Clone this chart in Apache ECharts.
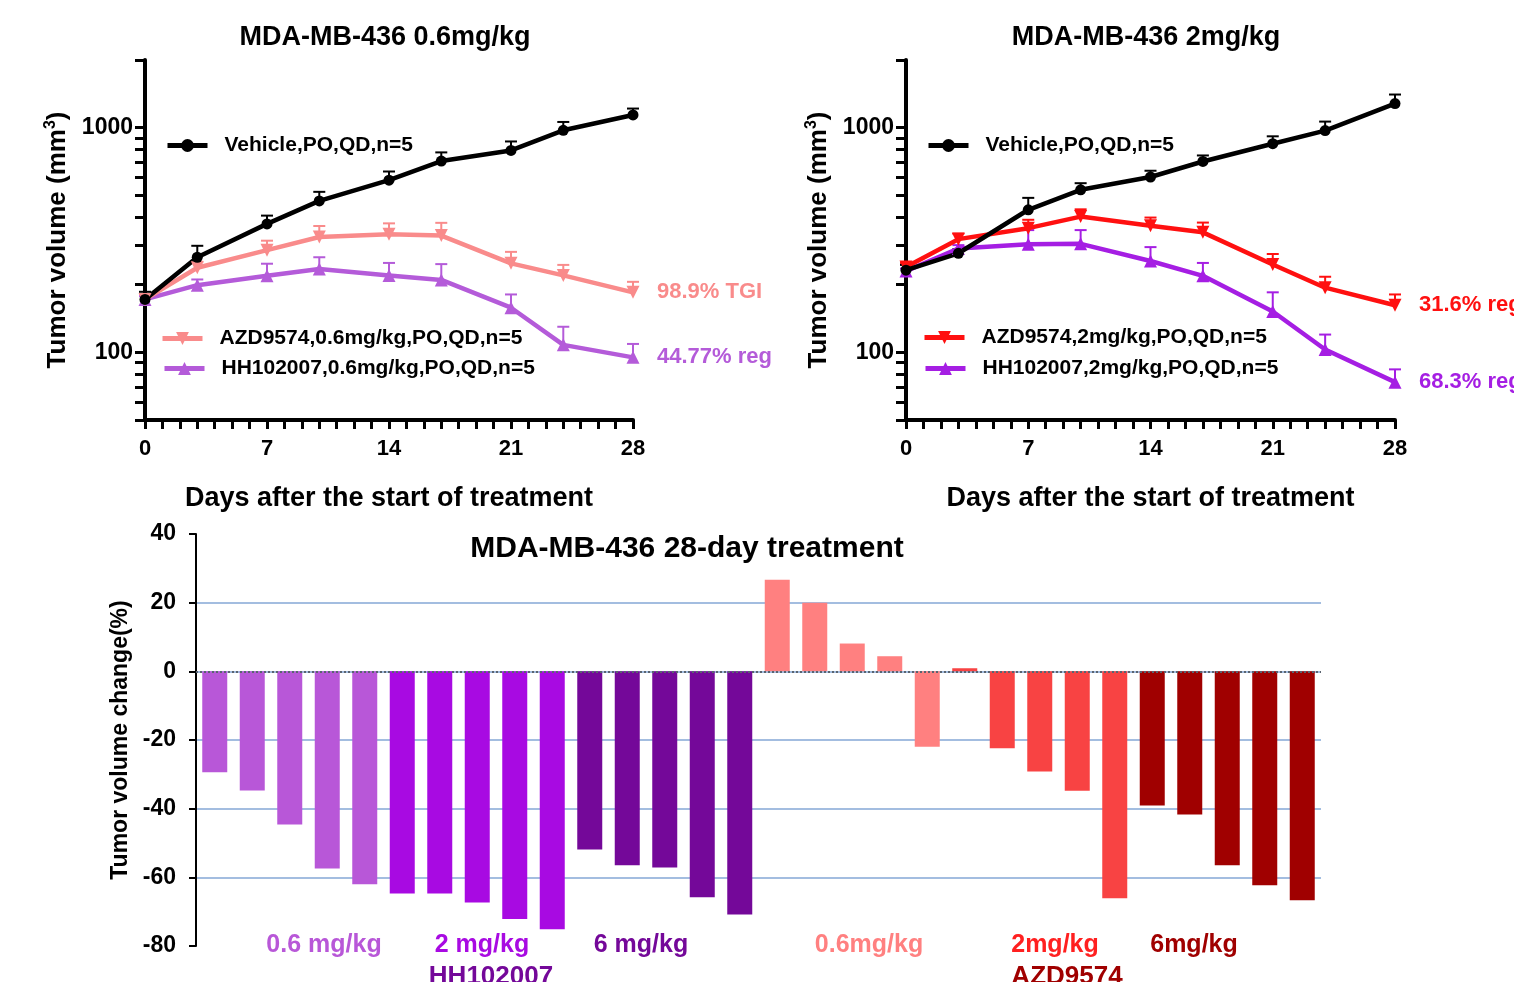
<!DOCTYPE html>
<html>
<head>
<meta charset="utf-8">
<title>MDA-MB-436</title>
<script src="https://cdn.jsdelivr.net/npm/echarts@6/dist/echarts.min.js"></script>
<style>
  html, body { margin: 0; padding: 0; background: #fff; }
  #chart { width: 1514px; height: 982px; }
</style>
</head>
<body>
<div id="chart"></div>
<script>
// measurement days
const days = [0, 3, 7, 10, 14, 17, 21, 24, 28];

// 0.6 mg/kg study: mean and top of the error bar
const veh06 = [172, 265, 373, 472, 584, 710, 792, 973, 1139];
const veh06Err = [186, 298, 406, 518, 638, 776, 868, 1060, 1216];
const azd06 = [172, 238, 285, 326, 335, 331, 249, 220, 185];
const azd06Err = [182, 253, 314, 365, 375, 377, 280, 245, 206];
const hh06 = [172, 199, 219, 235, 220, 210, 158, 108, 95];
const hh06Err = [178, 211, 248, 265, 250, 247, 181, 130, 109];

// 2 mg/kg study
const veh2 = [232, 276, 431, 529, 603, 707, 848, 970, 1280];
const veh2Err = [245, 288, 487, 566, 643, 752, 915, 1064, 1404];
const azd2 = [240, 319, 357, 402, 366, 342, 246, 194, 162];
const azd2Err = [250, 338, 389, 433, 398, 378, 274, 217, 181];
const hh2 = [230, 290, 303, 304, 255, 219, 152, 103, 73.7];
const hh2Err = [236, 300, 350, 350, 294, 250, 185, 120, 84];

// log axis ticks / labels
const logTicks = [50, 60, 70, 80, 90, 100, 200, 300, 400, 500, 600, 700, 800, 900, 1000, 2000];
const logLabels = [100, 1000];

// 28-day tumor volume change (%) per animal
const hh06Change = [-29.4, -34.7, -44.6, -57.4, -62.0];
const hh2Change = [-64.7, -64.7, -67.3, -72.1, -75.1];
const hh6Change = [-51.9, -56.5, -57.1, -65.8, -70.8];
const azd06Change = [26.7, 20.0, 8.1, 4.4, -22.0];
const azd2Change = [0.9, -22.4, -29.2, -34.8, -66.1];
const azd6Change = [-39.1, -41.7, -56.5, -62.3, -66.7];
const groupNames = ['0.6 mg/kg', '2 mg/kg', '6 mg/kg', '0.6mg/kg', '2mg/kg', '6mg/kg'];
const drugNames = ['HH102007', 'AZD9574'];

const FONT = '"Liberation Sans", Arial, Helvetica, sans-serif';
const groupColors = ['#b857d8', '#a80ae2', '#740899', '#ff8080', '#f84343', '#a00000'];
const groupLabelX = [324, 482, 641, 869, 1055, 1194];

const chart = echarts.init(document.getElementById('chart'));

const groups = [hh06Change, hh2Change, hh6Change, azd06Change, azd2Change, azd6Change];
const categories = [];
const barData = [];
groups.forEach((g, gi) => {
  g.forEach((v, i) => {
    categories.push((gi < 3 ? drugNames[0] : drugNames[1]) + ' ' + groupNames[gi] + ' #' + (i + 1));
    barData.push({ value: v, itemStyle: { color: groupColors[gi] } });
  });
});

const pairs = vals => days.map((d, i) => [d, vals[i]]);

function lineSeries(name, idx, vals, color, symbol, rotate, endText) {
  return {
    type: 'line',
    name: name,
    xAxisIndex: idx,
    yAxisIndex: idx,
    data: pairs(vals),
    symbol: symbol,
    symbolSize: symbol === 'circle' ? 11 : 13,
    symbolRotate: rotate,
    lineStyle: { color: color, width: 4.5 },
    itemStyle: { color: color },
    z: 3,
    endLabel: endText ? {
      show: true,
      formatter: endText,
      color: color,
      fontSize: 22,
      fontWeight: 'bold',
      fontFamily: FONT,
      distance: 24
    } : undefined
  };
}

function errorSeries(name, idx, vals, errs, color) {
  return {
    type: 'custom',
    name: name,
    xAxisIndex: idx,
    yAxisIndex: idx,
    silent: true,
    z: 2,
    data: days.map((d, i) => [d, vals[i], errs[i]]),
    encode: { x: 0, y: [1, 2] },
    renderItem: (params, api) => {
      const base = api.coord([api.value(0), api.value(1)]);
      const top = api.coord([api.value(0), api.value(2)]);
      return {
        type: 'group',
        children: [
          { type: 'line', shape: { x1: base[0], y1: base[1], x2: top[0], y2: top[1] }, style: { stroke: color, lineWidth: 2 } },
          { type: 'line', shape: { x1: top[0] - 6, y1: top[1], x2: top[0] + 6, y2: top[1] }, style: { stroke: color, lineWidth: 2 } }
        ]
      };
    }
  };
}

function dayAxis(idx) {
  return {
    gridIndex: idx,
    type: 'value',
    min: 0,
    max: 28,
    interval: 7,
    axisLine: { show: true, lineStyle: { color: '#000', width: 4 } },
    axisTick: { show: true, length: 9, lineStyle: { color: '#000', width: 3 } },
    minorTick: { show: true, splitNumber: 7, length: 9, lineStyle: { color: '#000', width: 3 } },
    splitLine: { show: false },
    axisLabel: { color: '#000', fontSize: 22, fontWeight: 'bold', fontFamily: FONT, margin: 18 },
    name: 'Days after the start of treatment',
    nameLocation: 'middle',
    nameGap: 65,
    nameTextStyle: { color: '#000', fontSize: 27, fontWeight: 'bold', fontFamily: FONT }
  };
}

function volumeAxis(idx) {
  return {
    gridIndex: idx,
    type: 'log',
    logBase: 10,
    min: 50,
    max: 2000,
    axisLine: { show: true, lineStyle: { color: '#000', width: 4 } },
    axisTick: { show: true, customValues: logTicks, length: 10, lineStyle: { color: '#000', width: 3 } },
    axisLabel: {
      customValues: logLabels,
      formatter: v => String(Math.round(v)),
      color: '#000', fontSize: 23, fontWeight: 'bold', fontFamily: FONT, margin: 12
    },
    splitLine: { show: false },
    name: 'Tumor volume (mm{sup|3})',
    nameLocation: 'middle',
    nameGap: 72,
    nameTextStyle: {
      color: '#000', fontSize: 26, fontWeight: 'bold', fontFamily: FONT,
      rich: { sup: { fontSize: 16, fontWeight: 'bold', fontFamily: FONT, color: '#000', verticalAlign: 'top', padding: [0, 0, 14, 0] } }
    }
  };
}

function legendAt(name, left, top) {
  return {
    data: [name],
    left: left,
    top: top,
    padding: 0,
    itemWidth: 40,
    itemHeight: 16,
    selectedMode: false,
    lineStyle: { width: 5 },
    textStyle: { color: '#000', fontSize: 21, fontWeight: 'bold', fontFamily: FONT, padding: [0, 0, 0, 12] }
  };
}

function text(str, x, y, size, color) {
  return {
    type: 'text', x: x, y: y, silent: true,
    style: { text: str, fill: color, fontSize: size, fontWeight: 'bold', fontFamily: FONT, align: 'center', verticalAlign: 'middle' }
  };
}

const option = {
  animation: false,
  backgroundColor: '#fff',
  textStyle: { fontFamily: FONT },
  grid: [
    { left: 145, top: 60, width: 488, height: 360, outerBoundsMode: 'none' },
    { left: 906, top: 60, width: 489, height: 360, outerBoundsMode: 'none' },
    { left: 196, top: 534, width: 1125, height: 412, outerBoundsMode: 'none' }
  ],
  legend: [
    legendAt('Vehicle,PO,QD,n=5', 165, 135),
    legendAt('AZD9574,0.6mg/kg,PO,QD,n=5', 160, 328),
    legendAt('HH102007,0.6mg/kg,PO,QD,n=5', 162, 358),
    legendAt('Vehicle,PO,QD,n=5', 926, 135),
    legendAt('AZD9574,2mg/kg,PO,QD,n=5', 922, 327),
    legendAt('HH102007,2mg/kg,PO,QD,n=5', 923, 358)
  ],
  xAxis: [
    dayAxis(0),
    dayAxis(1),
    {
      gridIndex: 2,
      type: 'category',
      data: categories,
      boundaryGap: true,
      axisLine: { show: false },
      axisTick: { show: false },
      axisLabel: { show: false },
      splitLine: { show: false }
    }
  ],
  yAxis: [
    volumeAxis(0),
    volumeAxis(1),
    {
      gridIndex: 2,
      type: 'value',
      min: -80,
      max: 40,
      interval: 20,
      axisLine: { show: true, lineStyle: { color: '#000', width: 2 } },
      axisTick: { show: true, length: 7, lineStyle: { color: '#000', width: 2 } },
      axisLabel: { color: '#000', fontSize: 23, fontWeight: 'bold', fontFamily: FONT, margin: 20 },
      splitLine: { show: true, showMinLine: false, showMaxLine: false, lineStyle: { color: '#a3bde0', width: 2 } },
      name: 'Tumor volume change(%)',
      nameLocation: 'middle',
      nameGap: 63,
      nameTextStyle: { color: '#000', fontSize: 23, fontWeight: 'bold', fontFamily: FONT }
    }
  ],
  series: [
    errorSeries('err-hh06', 0, hh06, hh06Err, '#b45bd9'),
    errorSeries('err-azd06', 0, azd06, azd06Err, '#f98b8b'),
    errorSeries('err-veh06', 0, veh06, veh06Err, '#000'),
    lineSeries('HH102007,0.6mg/kg,PO,QD,n=5', 0, hh06, '#b45bd9', 'triangle', 0, '44.77% reg'),
    lineSeries('AZD9574,0.6mg/kg,PO,QD,n=5', 0, azd06, '#f98b8b', 'triangle', 180, '98.9% TGI'),
    lineSeries('Vehicle,PO,QD,n=5', 0, veh06, '#000', 'circle', 0, null),

    errorSeries('err-hh2', 1, hh2, hh2Err, '#a51ee3'),
    errorSeries('err-azd2', 1, azd2, azd2Err, '#ff1010'),
    errorSeries('err-veh2', 1, veh2, veh2Err, '#000'),
    lineSeries('HH102007,2mg/kg,PO,QD,n=5', 1, hh2, '#a51ee3', 'triangle', 0, '68.3% reg'),
    lineSeries('AZD9574,2mg/kg,PO,QD,n=5', 1, azd2, '#ff1010', 'triangle', 180, '31.6% reg'),
    lineSeries('Vehicle,PO,QD,n=5', 1, veh2, '#000', 'circle', 0, null),

    {
      type: 'bar',
      name: 'Tumor volume change',
      xAxisIndex: 2,
      yAxisIndex: 2,
      barWidth: 25,
      data: barData,
      markLine: {
        silent: true,
        symbol: 'none',
        label: { show: false },
        lineStyle: { color: '#5a6470', type: 'dotted', width: 2 },
        data: [{ yAxis: 0 }]
      }
    }
  ],
  graphic: [
    text('MDA-MB-436 0.6mg/kg', 385, 38, 27, '#000'),
    text('MDA-MB-436 2mg/kg', 1146, 38, 27, '#000'),
    text('MDA-MB-436 28-day treatment', 687, 549, 30, '#000'),
    text(groupNames[0], groupLabelX[0], 945, 25, groupColors[0]),
    text(groupNames[1], groupLabelX[1], 945, 25, groupColors[1]),
    text(groupNames[2], groupLabelX[2], 945, 25, groupColors[2]),
    text(groupNames[3], groupLabelX[3], 945, 25, groupColors[3]),
    text(groupNames[4], groupLabelX[4], 945, 25, '#ff2020'),
    text(groupNames[5], groupLabelX[5], 945, 25, groupColors[5]),
    text(drugNames[0], 491, 977, 26, groupColors[2]),
    text(drugNames[1], 1067, 977, 26, groupColors[5])
  ]
};

chart.setOption(option);
</script>
</body>
</html>
